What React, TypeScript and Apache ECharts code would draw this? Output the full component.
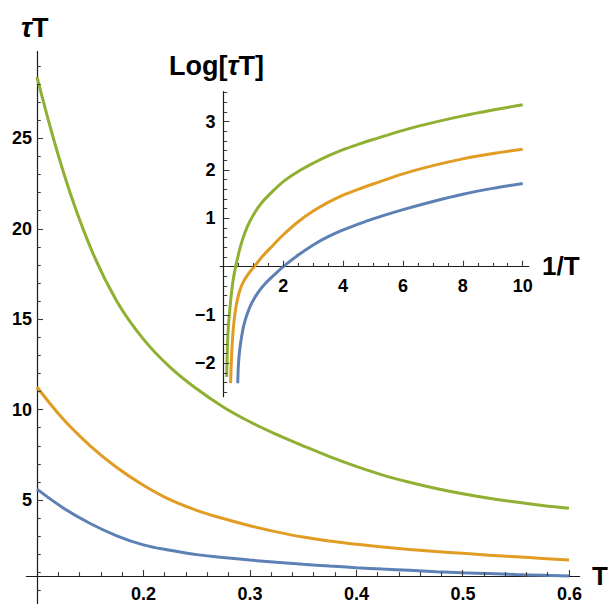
import React, { useEffect, useRef } from "react";
import * as echarts from "echarts";

// ---------- Main plot data: tau*T versus T ----------
const T_VALUES = [0.1, 0.125, 0.15, 0.175, 0.2, 0.225, 0.25, 0.275, 0.3, 0.325, 0.35, 0.375, 0.4, 0.425, 0.45, 0.475, 0.5, 0.525, 0.55, 0.575, 0.6];
const BLUE_TAU_T = [5.6, 4.55, 3.7, 3.02, 2.52, 2.22, 1.98, 1.82, 1.68, 1.56, 1.45, 1.35, 1.26, 1.18, 1.11, 1.04, 0.98, 0.93, 0.88, 0.84, 0.8];
const ORANGE_TAU_T = [11.25, 9.45, 8.0, 6.8, 5.82, 5.02, 4.43, 3.98, 3.58, 3.24, 2.95, 2.73, 2.55, 2.4, 2.27, 2.15, 2.05, 1.95, 1.86, 1.77, 1.68];
const GREEN_TAU_T = [28.4, 23.1, 19.0, 16.0, 13.9, 12.35, 11.15, 10.15, 9.33, 8.63, 8.0, 7.4, 6.86, 6.38, 5.98, 5.64, 5.35, 5.1, 4.89, 4.7, 4.54];

// ---------- Inset data: Log[tau*T] versus 1/T ----------
const GREEN_INV_T = [0.11, 0.13, 0.16, 0.2, 0.25, 0.32, 0.41, 0.52, 0.65, 0.8, 1.0, 1.25, 1.5, 2, 2.5, 3, 3.5, 4, 4.5, 5, 6, 7, 8, 9, 10];
const GREEN_LOG = [-2.28, -1.75, -1.3, -0.98, -0.66, -0.3, 0, 0.3, 0.58, 0.83, 1.07, 1.3, 1.47, 1.76, 1.97, 2.14, 2.29, 2.42, 2.53, 2.63, 2.82, 2.98, 3.12, 3.24, 3.35];
const ORANGE_INV_T = [0.24, 0.27, 0.31, 0.36, 0.43, 0.52, 0.63, 0.8, 1.03, 1.3, 1.67, 2, 2.5, 3, 3.5, 4, 4.5, 5, 6, 7, 8, 9, 10];
const ORANGE_LOG = [-2.41, -1.9, -1.45, -1.1, -0.8, -0.55, -0.36, -0.18, 0, 0.21, 0.45, 0.66, 0.93, 1.15, 1.33, 1.48, 1.6, 1.71, 1.92, 2.09, 2.23, 2.34, 2.43];
const BLUE_INV_T = [0.48, 0.5, 0.54, 0.6, 0.68, 0.8, 0.95, 1.15, 1.4, 1.7, 2, 2.5, 3, 3.5, 4, 4.5, 5, 6, 7, 8, 9, 10];
const BLUE_LOG = [-2.41, -2.05, -1.75, -1.48, -1.22, -0.97, -0.75, -0.54, -0.35, -0.17, 0, 0.24, 0.45, 0.62, 0.76, 0.88, 0.99, 1.18, 1.35, 1.5, 1.62, 1.72];

// ---------- Tick labels / ticks: [first, last, step] ----------
const MAIN_X_LABEL_RANGE = [0.2, 0.6, 0.1];
const MAIN_Y_LABEL_RANGE = [5, 25, 5];
const INSET_X_LABEL_RANGE = [2, 10, 2];
const INSET_Y_LABEL_RANGE = [-2, 3, 1];
const MAIN_X_MINOR_RANGE = [0.12, 0.6, 0.02];
const MAIN_Y_MINOR_RANGE = [0, 29, 1];
const INSET_X_MINOR_RANGE = [0.5, 10, 0.5];
const INSET_Y_MINOR_RANGE = [-2.6, 3.6, 0.2];

// where the axes cross (data values)
const MAIN_CROSS_T = 0.1;
const MAIN_CROSS_Y = 0.8;
const INSET_CROSS_X = 0;
const INSET_CROSS_Y = 0;

const COLORS = { blue: "#5e81b5", orange: "#e19c24", green: "#8fb032" };
const FONT = "'Liberation Sans', Arial, Helvetica, sans-serif";

const zip = (xs: number[], ys: number[]) => xs.map((x, i) => [x, ys[i]]);
const minusFmt = (v: number) => (Math.abs(v) < 1e-9 ? "" : v < 0 ? "\u2212" + Math.abs(v) : String(v));

function steps(r: number[]): number[] {
  const out: number[] = [];
  const n = Math.round((r[1] - r[0]) / r[2]);
  for (let i = 0; i <= n; i++) out.push(Number((r[0] + i * r[2]).toFixed(4)));
  return out;
}
const isOn = (v: number, r: number[]) => {
  if (v < r[0] - 1e-9 || v > r[1] + 1e-9) return false;
  const k = (v - r[0]) / r[2];
  return Math.abs(k - Math.round(k)) < 1e-6;
};

const labelStyle = { color: "#000", fontFamily: FONT, fontWeight: "bold" as const, fontSize: 18 };
const axisLineStyle = { color: "#1a1a1a", width: 1.2 };

// grid geometry (pixels)
const MAIN_Y0 = 590.4, MAIN_PX_PER_Y = 18.08;
const MAIN_X0 = 37, MAIN_PX_PER_X = 1065;
const INSET_X0 = 223.4, INSET_PX_PER_X = 29.93;
const INSET_Y0 = 266.7, INSET_PX_PER_Y = 48.33;
const MAJOR_LEN = 6, MINOR_LEN = 3.8;

export default function App() {
  const ref = useRef<HTMLDivElement>(null);
  useEffect(() => {
    if (!ref.current) return;
    const chart = echarts.init(ref.current, undefined, { renderer: "svg" });

    const MAIN_AXIS_PIX = MAIN_Y0 - MAIN_CROSS_Y * MAIN_PX_PER_Y;
    const INSET_AXIS_PIX = INSET_Y0 - INSET_CROSS_Y * INSET_PX_PER_Y;

    const gMain = { left: 26.35, top: 51.6, width: 553.3, height: 552.4 };
    const gInset = { left: 220.4, top: 91.7, width: 308.3, height: 305 };
    const labelGrid = (xr: number[], yr: number[], x0: number, xs: number, xo: number, y0: number, ys: number) => ({
      left: x0 + (xr[0] - xo) * xs, width: (xr[1] - xr[0]) * xs,
      top: y0 - yr[1] * ys, height: (yr[1] - yr[0]) * ys,
    });
    const gMainLab = labelGrid(MAIN_X_LABEL_RANGE, MAIN_Y_LABEL_RANGE, MAIN_X0, MAIN_PX_PER_X, 0.1, MAIN_Y0, MAIN_PX_PER_Y);
    const gInsetLab = labelGrid(INSET_X_LABEL_RANGE, INSET_Y_LABEL_RANGE, INSET_X0, INSET_PX_PER_X, 0, INSET_Y0, INSET_PX_PER_Y);

    const xOff = (g: any, yPix: number) => yPix - (g.top + g.height);
    const yOff = (g: any, xPix: number) => g.left - xPix;

    const lineAxis = (dim: "x" | "y", grid: number, min: number, max: number, offset: number) => ({
      type: "value", gridIndex: grid, min, max, position: dim === "x" ? "bottom" : "left", offset,
      axisLine: { show: true, onZero: false, lineStyle: axisLineStyle },
      axisTick: { show: false }, axisLabel: { show: false }, splitLine: { show: false },
    });
    const labelAxis = (dim: "x" | "y", grid: number, r: number[], offset: number, fmt: (v: number) => string, margin: number) => ({
      type: "value", gridIndex: grid, min: r[0], max: r[1], interval: r[2],
      position: dim === "x" ? "bottom" : "left", offset,
      axisLine: { show: false, onZero: false },
      axisTick: { show: false },
      axisLabel: { show: true, formatter: fmt, margin, showMinLabel: true, showMaxLabel: true, ...labelStyle },
      splitLine: { show: false },
    });

    const line = (data: number[][], color: string, xi: number, yi: number, smooth: number) => ({
      type: "line", xAxisIndex: xi, yAxisIndex: yi, data, showSymbol: false, smooth,
      lineStyle: { color, width: 3 }, itemStyle: { color }, silent: true, z: 2,
    });

    // tick marks as short segments placed through the axes' own scales
    const tickLines = (xi: number, yi: number, values: number[], majorRange: number[], dim: "x" | "y", cross: number, pxPerUnit: number) => ({
      type: "lines", coordinateSystem: "cartesian2d", xAxisIndex: xi, yAxisIndex: yi, silent: true, z: 3,
      polyline: false, effect: { show: false },
      lineStyle: { color: "#3a3a3a", width: 1.1, opacity: 1, curveness: 0 },
      data: values.map((v) => {
        const len = (isOn(v, majorRange) ? MAJOR_LEN : MINOR_LEN) / pxPerUnit;
        return dim === "x"
          ? { coords: [[v, cross], [v, cross + len]] }
          : { coords: [[cross, v], [cross + len, v]] };
      }),
    });

    chart.setOption({
      animation: false,
      backgroundColor: "#ffffff",
      grid: [gMain, gInset, gMainLab, gInsetLab],
      xAxis: [
        lineAxis("x", 0, 0.09, 0.61, xOff(gMain, MAIN_AXIS_PIX)),
        lineAxis("x", 1, -0.1, 10.2, xOff(gInset, INSET_AXIS_PIX)),
        labelAxis("x", 2, MAIN_X_LABEL_RANGE, xOff(gMainLab, MAIN_AXIS_PIX), (v: number) => v.toFixed(1), 9),
        labelAxis("x", 3, INSET_X_LABEL_RANGE, xOff(gInsetLab, INSET_AXIS_PIX), (v: number) => String(Math.round(v)), 10),
      ],
      yAxis: [
        lineAxis("y", 0, -0.75, 29.8, yOff(gMain, MAIN_X0)),
        lineAxis("y", 1, -2.69, 3.62, yOff(gInset, INSET_X0)),
        labelAxis("y", 2, MAIN_Y_LABEL_RANGE, yOff(gMainLab, MAIN_X0), (v: number) => String(Math.round(v)), 5),
        labelAxis("y", 3, INSET_Y_LABEL_RANGE, yOff(gInsetLab, INSET_X0), (v: number) => minusFmt(Math.round(v)), 8),
      ],
      series: [
        tickLines(0, 0, steps(MAIN_X_MINOR_RANGE), MAIN_X_LABEL_RANGE, "x", MAIN_CROSS_Y, MAIN_PX_PER_Y),
        tickLines(0, 0, steps(MAIN_Y_MINOR_RANGE), MAIN_Y_LABEL_RANGE, "y", MAIN_CROSS_T, MAIN_PX_PER_X),
        tickLines(1, 1, steps(INSET_X_MINOR_RANGE), INSET_X_LABEL_RANGE, "x", INSET_CROSS_Y, INSET_PX_PER_Y),
        tickLines(1, 1, steps(INSET_Y_MINOR_RANGE), INSET_Y_LABEL_RANGE, "y", INSET_CROSS_X, INSET_PX_PER_X),
        line(zip(T_VALUES, BLUE_TAU_T), COLORS.blue, 0, 0, 0.4),
        line(zip(T_VALUES, ORANGE_TAU_T), COLORS.orange, 0, 0, 0.4),
        line(zip(T_VALUES, GREEN_TAU_T), COLORS.green, 0, 0, 0.4),
        line(zip(BLUE_INV_T, BLUE_LOG), COLORS.blue, 1, 1, 0.35),
        line(zip(ORANGE_INV_T, ORANGE_LOG), COLORS.orange, 1, 1, 0.35),
        line(zip(GREEN_INV_T, GREEN_LOG), COLORS.green, 1, 1, 0.35),
      ],
      graphic: [
        {
          type: "text", x: 21, y: 28,
          style: {
            text: "{i|\u03c4}{b|T}", verticalAlign: "middle", align: "left",
            rich: {
              i: { fontFamily: FONT, fontSize: 27, fontWeight: "bold", fontStyle: "italic", fill: "#000" },
              b: { fontFamily: FONT, fontSize: 27, fontWeight: "bold", fill: "#000" },
            },
          },
        },
        {
          type: "text", x: 592, y: 576,
          style: { text: "T", fontFamily: FONT, fontSize: 26, fontWeight: "bold", fill: "#000", verticalAlign: "middle", align: "left" },
        },
        {
          type: "text", x: 169, y: 66,
          style: {
            text: "{b|Log[}{i|\u03c4}{b|T]}", verticalAlign: "middle", align: "left",
            rich: {
              i: { fontFamily: FONT, fontSize: 27, fontWeight: "bold", fontStyle: "italic", fill: "#000" },
              b: { fontFamily: FONT, fontSize: 27, fontWeight: "bold", fill: "#000" },
            },
          },
        },
        {
          type: "text", x: 542, y: 266,
          style: { text: "1/T", fontFamily: FONT, fontSize: 26, fontWeight: "bold", fill: "#000", verticalAlign: "middle", align: "left" },
        },
      ],
    });
    return () => chart.dispose();
  }, []);
  return (
    <div
      ref={ref}
      style={{ position: "absolute", left: 0, top: 0, width: 608, height: 604, background: "#fff" }}
    />
  );
}
